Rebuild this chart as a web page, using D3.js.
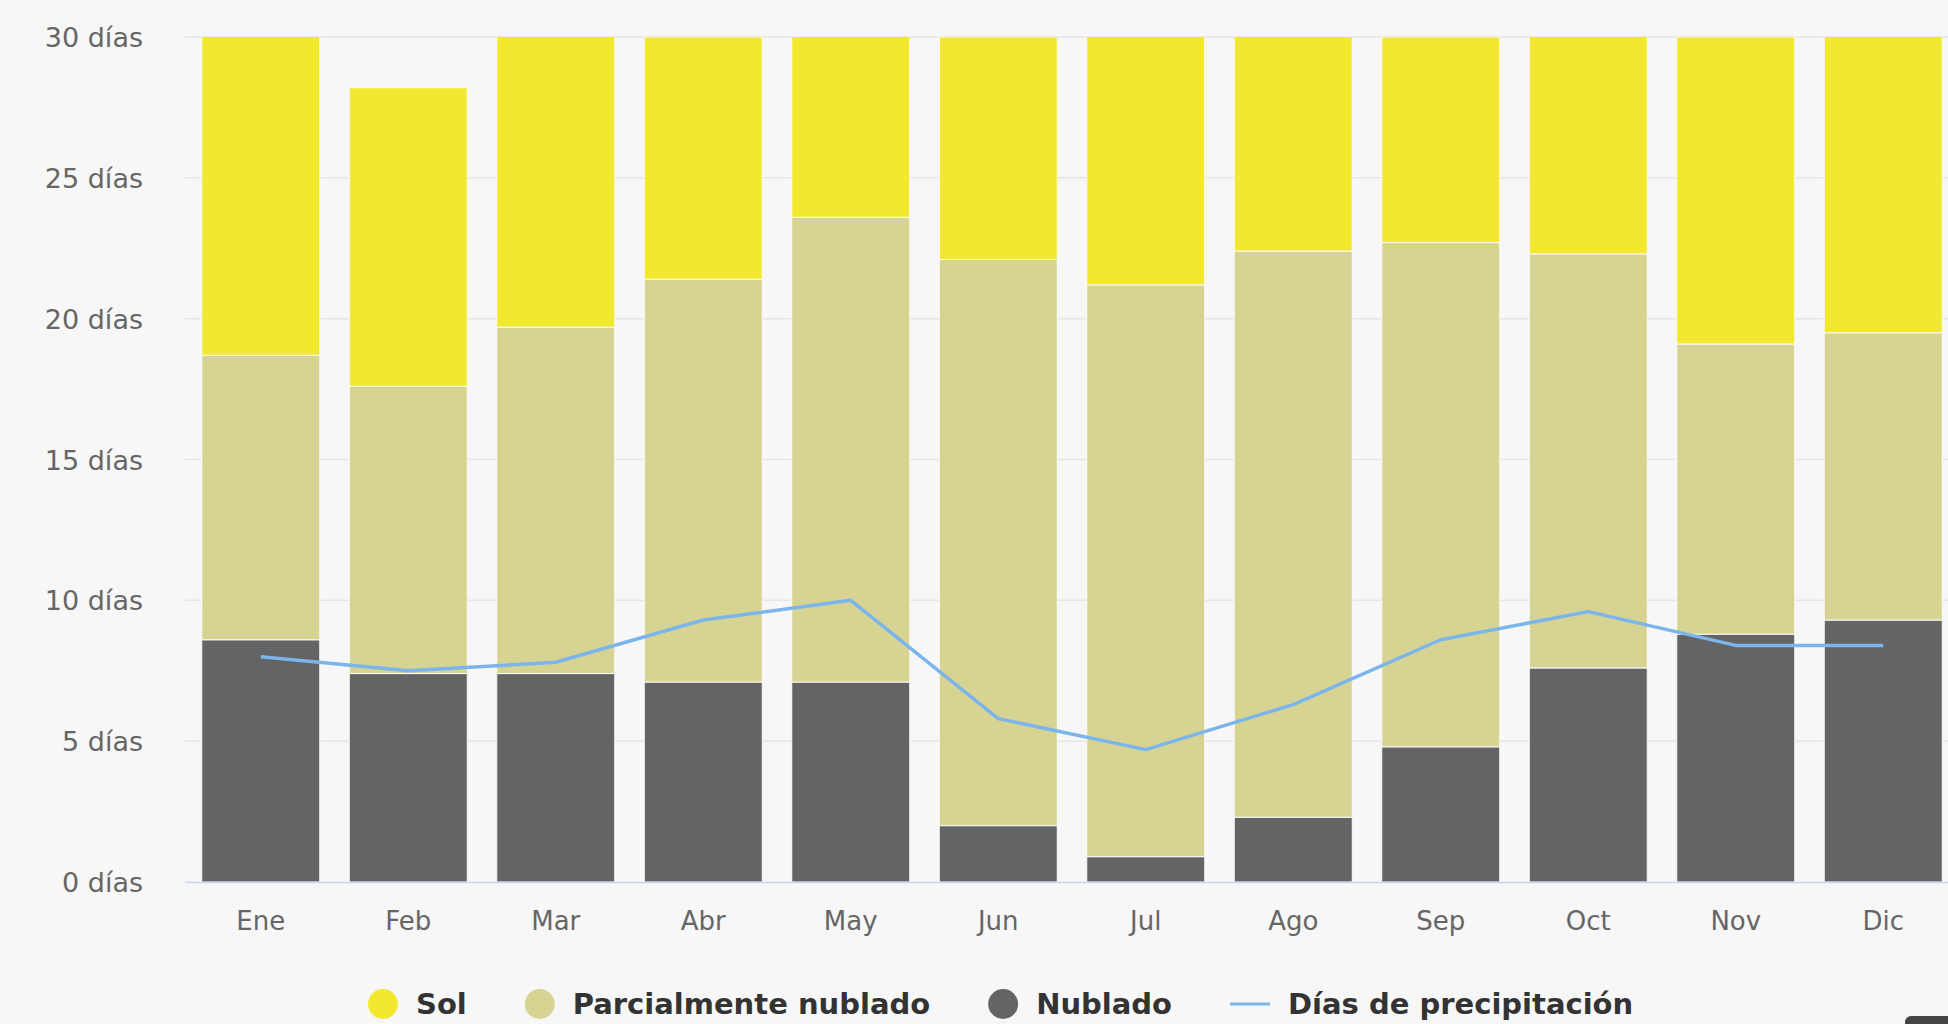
<!DOCTYPE html>
<html>
<head>
<meta charset="utf-8">
<script src="https://cdn.jsdelivr.net/npm/d3@7"></script>
<style>
  html, body { margin: 0; padding: 0; background: #f7f7f7; }
  svg { display: block; font-family: "DejaVu Sans", sans-serif; }
</style>
</head>
<body>
<div id="chart"></div>
<script>
var months = ['Ene', 'Feb', 'Mar', 'Abr', 'May', 'Jun', 'Jul', 'Ago', 'Sep', 'Oct', 'Nov', 'Dic'];
var nublado = [8.6, 7.4, 7.4, 7.1, 7.1, 2.0, 0.9, 2.3, 4.8, 7.6, 8.8, 9.3];
var parcial = [10.1, 10.2, 12.3, 14.3, 16.5, 20.1, 20.3, 20.1, 17.9, 14.7, 10.3, 10.2];
var sol = [12.3, 10.6, 11.3, 8.6, 7.4, 7.9, 9.8, 8.6, 7.3, 8.7, 10.9, 11.5];
var precipitacion = [8.0, 7.5, 7.8, 9.3, 10.0, 5.8, 4.7, 6.3, 8.6, 9.6, 8.4, 8.4];
var yTicks = [0, 5, 10, 15, 20, 25, 30];

var width = 1948,
    height = 1024;

var svg = d3.select('#chart').append('svg')
  .attr('width', width)
  .attr('height', height);

svg.append('rect')
  .attr('width', width)
  .attr('height', height)
  .attr('fill', '#f7f7f7');

var x = d3.scaleBand()
  .domain(months)
  .range([187, 1957])
  .paddingInner(0.2)
  .paddingOuter(0.1);

var y = d3.scaleLinear()
  .domain([0, 30])
  .range([882, 37]);

// grid
svg.append('g')
  .selectAll('line')
  .data(yTicks.filter(function(d) { return d > 0; }))
  .enter().append('line')
  .attr('x1', 185)
  .attr('x2', width)
  .attr('y1', function(d) { return y(d); })
  .attr('y2', function(d) { return y(d); })
  .attr('stroke', '#e6e6e6')
  .attr('stroke-width', 1.5);

// y labels
svg.append('g')
  .selectAll('text')
  .data(yTicks)
  .enter().append('text')
  .attr('x', 143)
  .attr('y', function(d) { return y(d) + 10; })
  .attr('text-anchor', 'end')
  .attr('font-size', 27)
  .attr('fill', '#666')
  .text(function(d) { return d + ' días'; });

// stacked bars
var rows = months.map(function(m, i) {
  return { month: m, nublado: nublado[i], parcial: parcial[i], sol: sol[i] };
});
var keys = ['nublado', 'parcial', 'sol'];
var colors = { nublado: '#646464', parcial: '#d7d493', sol: '#f2e830' };
var stacked = d3.stack().keys(keys)(rows);

svg.append('clipPath').attr('id', 'plot-clip')
  .append('rect')
  .attr('x', 185).attr('y', y(30))
  .attr('width', width).attr('height', y(0) - y(30));

svg.append('g')
  .attr('clip-path', 'url(#plot-clip)')
  .selectAll('g')
  .data(stacked)
  .enter().append('g')
  .attr('fill', function(s) { return colors[s.key]; })
  .selectAll('rect')
  .data(function(s) { return s; })
  .enter().append('rect')
  .attr('x', function(d) { return x(d.data.month); })
  .attr('width', x.bandwidth())
  .attr('y', function(d) { return y(d[1]); })
  .attr('height', function(d) { return y(d[0]) - y(d[1]); })
  .attr('stroke', '#fafafa')
  .attr('stroke-width', 1);

// x axis line
svg.append('line')
  .attr('x1', 185).attr('x2', width)
  .attr('y1', y(0) + 0.5).attr('y2', y(0) + 0.5)
  .attr('stroke', '#ccd6eb')
  .attr('stroke-width', 1.5);

// x labels
svg.append('g')
  .selectAll('text')
  .data(months)
  .enter().append('text')
  .attr('x', function(d) { return x(d) + x.bandwidth() / 2; })
  .attr('y', 930)
  .attr('text-anchor', 'middle')
  .attr('font-size', 26)
  .attr('fill', '#666')
  .text(function(d) { return d; });

// precipitation line
var line = d3.line()
  .x(function(d, i) { return x(months[i]) + x.bandwidth() / 2; })
  .y(function(d) { return y(d); });

svg.append('path')
  .datum(precipitacion)
  .attr('d', line)
  .attr('fill', 'none')
  .attr('stroke', '#7cb5ec')
  .attr('stroke-width', 3.5)
  .attr('stroke-linejoin', 'round');

// legend
var legendItems = [
  { label: 'Sol', color: colors.sol, type: 'circle' },
  { label: 'Parcialmente nublado', color: colors.parcial, type: 'circle' },
  { label: 'Nublado', color: colors.nublado, type: 'circle' },
  { label: 'Días de precipitación', color: '#7cb5ec', type: 'line' }
];

var legend = svg.append('g');
var lx = 368, ly = 1004;
legendItems.forEach(function(item) {
  var g = legend.append('g').attr('transform', 'translate(' + lx + ',' + ly + ')');
  var textX;
  if (item.type === 'circle') {
    g.append('circle').attr('cx', 15).attr('cy', 0).attr('r', 15).attr('fill', item.color);
    textX = 48;
  } else {
    g.append('line').attr('x1', 0).attr('x2', 40).attr('y1', 0).attr('y2', 0)
      .attr('stroke', item.color).attr('stroke-width', 3);
    textX = 58;
  }
  var t = g.append('text')
    .attr('x', textX)
    .attr('y', 10)
    .attr('font-size', 29)
    .attr('font-weight', 'bold')
    .attr('fill', '#333')
    .text(item.label);
  lx += textX + t.node().getComputedTextLength() + 58;
});

// credit fragment at the bottom edge
svg.append('rect')
  .attr('x', 1905).attr('y', 1016)
  .attr('width', 60).attr('height', 20)
  .attr('rx', 6)
  .attr('fill', '#444');
</script>
</body>
</html>
